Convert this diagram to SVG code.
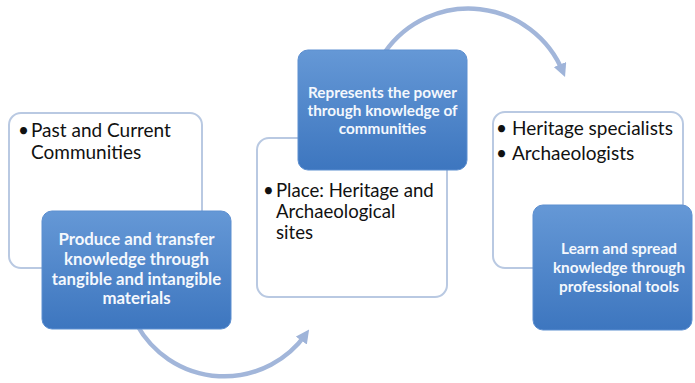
<svg xmlns="http://www.w3.org/2000/svg" width="695" height="383" viewBox="0 0 695 383">
  <defs>
    <linearGradient id="blueFill" x1="0" y1="0" x2="0" y2="1">
      <stop offset="0" stop-color="#6598d6"/>
      <stop offset="1" stop-color="#3d76bf"/>
    </linearGradient>
    <marker id="arrowHead" viewBox="0 0 10 10" refX="6" refY="5" markerWidth="3" markerHeight="3" orient="auto" markerUnits="strokeWidth">
      <path d="M0,0 L10,5 L0,10 z" fill="#9fb4d9"/>
    </marker>
    <style>
      .outline { fill: #ffffff; stroke: #b9c9e2; stroke-width: 2; }
      .solid { fill: url(#blueFill); stroke: #5d8fd0; stroke-width: 1; }
      .item { font-family: Lato, "Liberation Sans", sans-serif; font-size: 19px; fill: #111111; }
      .item.tight { font-size: 18.6px; }
      .caption { font-family: Lato, "Liberation Sans", sans-serif; font-size: 15.3px; font-weight: bold; fill: #f4f8fd; text-anchor: middle; }
      .caption.large { font-size: 16.8px; }
      .arc { fill: none; stroke: #a2b6da; stroke-width: 4.5; marker-end: url(#arrowHead); }
    </style>
  </defs>
  <rect width="695" height="383" fill="#ffffff"/>

  <!-- curved arrows linking the stages -->
  <g id="connectors">
    <path class="arc" d="M 137 325 A 100 100 0 0 0 306 334"/>
    <path class="arc" d="M 385 52 A 102 102 0 0 1 563 72"/>
  </g>

  <!-- stage 1: communities -->
  <g id="communities">
    <rect class="outline" x="9" y="113" width="193" height="155" rx="12"/>
    <text class="item" x="18" y="137">•</text>
    <text class="item" x="31" y="137">Past and Current</text>
    <text class="item" x="31" y="159">Communities</text>
  </g>
  <g id="produce">
    <rect class="solid" x="42" y="211" width="189" height="118" rx="10"/>
    <text class="caption large" x="136.5" y="245">Produce and transfer</text>
    <text class="caption large" x="136.5" y="265">knowledge through</text>
    <text class="caption large" x="136.5" y="285">tangible and intangible</text>
    <text class="caption large" x="136.5" y="304">materials</text>
  </g>

  <!-- stage 2: place -->
  <g id="place">
    <rect class="outline" x="257" y="138" width="190" height="159" rx="12"/>
    <text class="item tight" x="263" y="197">•</text>
    <text class="item tight" x="276" y="197">Place: Heritage and</text>
    <text class="item tight" x="276" y="218">Archaeological</text>
    <text class="item tight" x="276" y="239">sites</text>
  </g>
  <g id="power">
    <rect class="solid" x="298" y="50" width="169" height="120" rx="10"/>
    <text class="caption" x="382.5" y="98">Represents the power</text>
    <text class="caption" x="382.5" y="116">through knowledge of</text>
    <text class="caption" x="382.5" y="134">communities</text>
  </g>

  <!-- stage 3: specialists -->
  <g id="specialists">
    <rect class="outline" x="493" y="112" width="190" height="156" rx="12"/>
    <text class="item" x="496" y="135">•</text>
    <text class="item" x="512" y="135">Heritage specialists</text>
    <text class="item" x="496" y="160">•</text>
    <text class="item" x="512" y="160">Archaeologists</text>
  </g>
  <g id="learn">
    <rect class="solid" x="533" y="205" width="159" height="125" rx="10"/>
    <text class="caption" x="619" y="254">Learn and spread</text>
    <text class="caption" x="619" y="273">knowledge through</text>
    <text class="caption" x="619" y="292">professional tools</text>
  </g>
</svg>
